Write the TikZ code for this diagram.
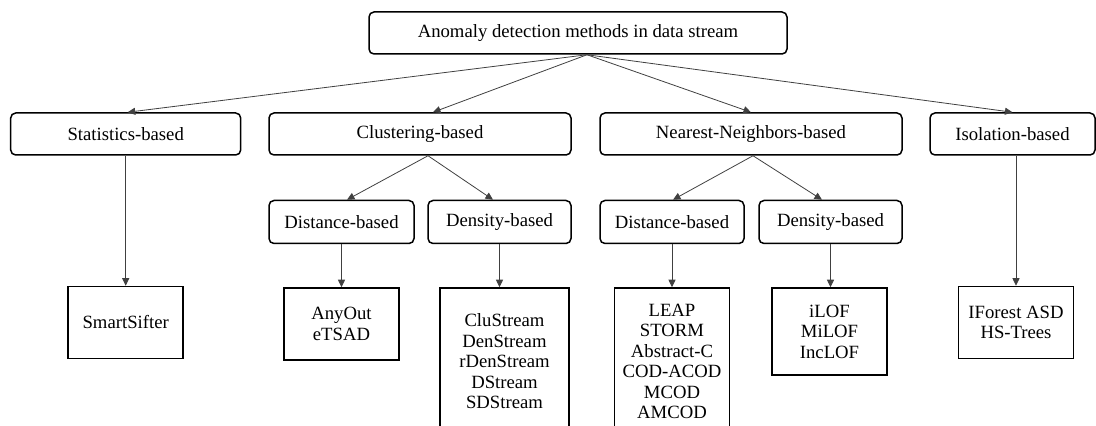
\documentclass[tikz,border=0pt]{standalone}
\usepackage{fontspec}
\setmainfont{Liberation Serif}
\usepackage{tikz}
\usetikzlibrary{arrows.meta, positioning, calc}
\tikzstyle{category} = [rectangle, rounded corners=5pt, minimum height=42pt, inner sep=0pt, text centered, draw=black, line width=1.5pt, font=\fontsize{18.7}{20.5}\selectfont]
\tikzstyle{method} = [rectangle, minimum width=115pt, minimum height=72pt, inner sep=0pt, align=center, draw=black, line width=1.5pt, font=\fontsize{18.7}{20.5}\selectfont]
\tikzstyle{arrow} = [line width=0.8pt, draw=black!75, -{Triangle[length=7.5pt,width=7pt]}]

\begin{document}
\begin{tikzpicture}[x=1pt, y=1pt]
        \useasboundingbox (0,0) rectangle (1096,426);
        \node (root) [category, minimum width=418pt] at (578,393) {Anomaly detection methods in data stream};

        \node (stat) [category, minimum width=230pt] at (125.7,292) {Statistics-based};
        \node (clust) [category, minimum width=302pt] at (420,292) {Clustering-based};
        \node (nn) [category, minimum width=302pt] at (751,292) {Nearest-Neighbors-based};
        \node (iso) [category, minimum width=165pt] at (1012.5,292) {Isolation-based};

        \node (cdist) [category, minimum width=145pt, minimum height=43pt, below=44pt of clust, xshift=-78.5pt] {Distance-based};
        \node (cdens) [category, minimum width=143pt, minimum height=43pt, below=44pt of clust, xshift=79.5pt] {Density-based};
        \node (ndist) [category, minimum width=144pt, minimum height=43pt, below=44pt of nn, xshift=-79pt] {Distance-based};
        \node (ndens) [category, minimum width=143pt, minimum height=43pt, below=44pt of nn, xshift=79.5pt] {Density-based};

        \node (smart) [method, below=130pt of stat] {SmartSifter};
        \node (anyout) [method, below=43pt of cdist] {AnyOut\\eTSAD};
        \node (clu) [method, minimum width=129pt, minimum height=147pt, below=43pt of cdens, xshift=5pt] {CluStream\\DenStream\\rDenStream\\DStream\\SDStream};
        \node (leap) [method, minimum height=147pt, below=43pt of ndist] {LEAP\\STORM\\Abstract-C\\COD-ACOD\\MCOD\\AMCOD};
        \node (ilof) [method, minimum height=87pt, below=43pt of ndens, xshift=-1pt] {iLOF\\MiLOF\\IncLOF};
        \node (iforest) [method, below=130pt of iso, xshift=3.5pt] {IForest ASD\\HS-Trees};

        % First level
        \coordinate (fork) at ([xshift=9pt]root.south);
        \draw [arrow] (fork) -- ([xshift=2pt]stat.north);
        \draw [arrow] (fork) -- ([xshift=13pt]clust.north);
        \draw [arrow] (fork) -- (nn.north);
        \draw [arrow] (fork) -- (iso.north);
        % Second level
        \coordinate (cfork) at ([xshift=8pt]clust.south);
        \draw [arrow] (cfork) -- ([xshift=5.5pt]cdist.north);
        \draw [arrow] (cfork) -- ([xshift=-6.5pt]cdens.north);
        \coordinate (nfork) at ([xshift=2pt]nn.south);
        \draw [arrow] (nfork) -- ([xshift=1pt]ndist.north);
        \draw [arrow] (nfork) -- ([xshift=-8.5pt]ndens.north);
        % Methods
        \draw [arrow] (stat) -- (smart);
        \draw [arrow] (cdist) -- (anyout);
        \draw [arrow] (cdens.south) -- (cdens.south |- clu.north);
        \draw [arrow] (ndist) -- (leap);
        \draw [arrow] (ndens.south) -- (ndens.south |- ilof.north);
        \draw [arrow] (iforest.north |- iso.south) -- (iforest.north);
    \end{tikzpicture}
\end{document}
